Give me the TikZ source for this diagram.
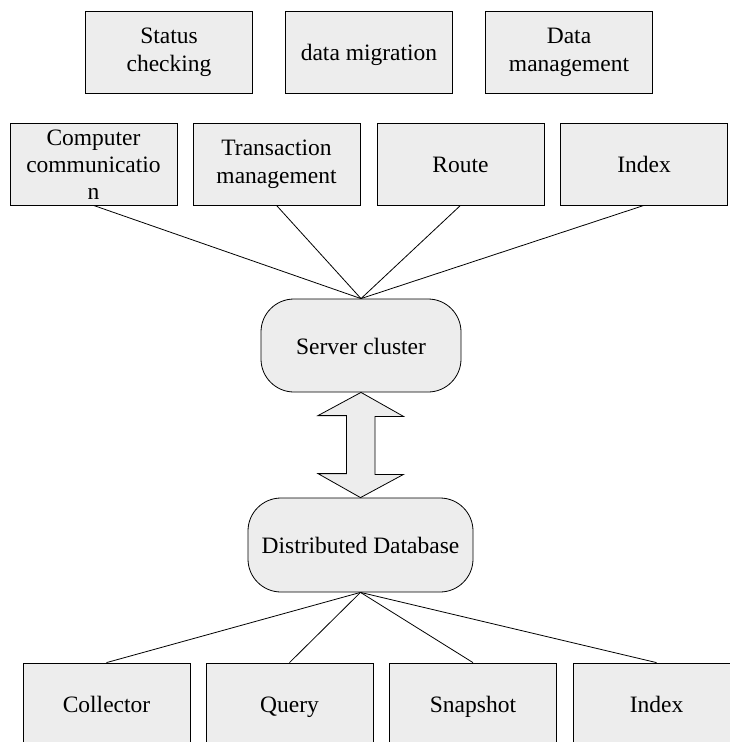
\documentclass[tikz,border=0pt]{standalone}
\usepackage{fontspec}
\setmainfont{Liberation Serif}
\tikzset{
module/.style={
	  draw,fill=black!7,line width=0.8pt,align=center,inner sep=0pt,
	    minimum width=167pt,minimum height=82pt,font=\fontsize{23.5}{28}\selectfont},
oneline/.style={module,text height=17pt,text depth=0pt},
core/.style={
	  oneline,rounded corners=33pt,minimum height=94pt},
link/.style={line width=0.8pt}
}

\begin{document}
\begin{tikzpicture}[x=1pt,y=-1pt]
	\useasboundingbox (0,0) rectangle (729,742);
	\node[module] (status) at (169,52) {Status\\checking};
	\node[oneline] (migr) at (369,52) {data migration};
	\node[module] (dmgmt) at (569,52) {Data\\management};
	\node[module] (comm) at (93.5,164) {\rule{0pt}{17pt}Computer\\[-1pt]communicatio\\[-1pt]n};
	\node[module] (trans) at (276.5,164) {Transaction\\management};
	\node[oneline] (route) at (460.5,164) {Route};
	\node[oneline] (idxa) at (644,164) {Index};
	\node[core,minimum width=200pt,minimum height=93pt] (srv) at (361,345.5) {Server cluster};
	\node[core,minimum width=225pt] (db) at (360.5,545) {Distributed Database};
	\node[oneline] (coll) at (106.5,704) {Collector};
	\node[oneline] (query) at (289.5,704) {Query};
	\node[oneline] (snap) at (473,704) {Snapshot};
	\node[oneline] (idxb) at (656.5,704) {Index};
	\foreach \m in {comm,trans,route,idxa}
		\draw[link] (\m.south) -- (srv.north);
	\foreach \m in {coll,query,snap,idxb}
		\draw[link] (db.south) -- (\m.north);
	\draw[link,fill=black!7] (srv.south) -- ++(42.5,24) -- ++(-28.5,0) -- ++(0,58)
		-- ++(28.5,0) -- (db.north) -- ++(-42.5,-24) -- ++(28.5,0) -- ++(0,-58)
		-- ++(-28.5,0) -- cycle;
\end{tikzpicture}
\end{document}
